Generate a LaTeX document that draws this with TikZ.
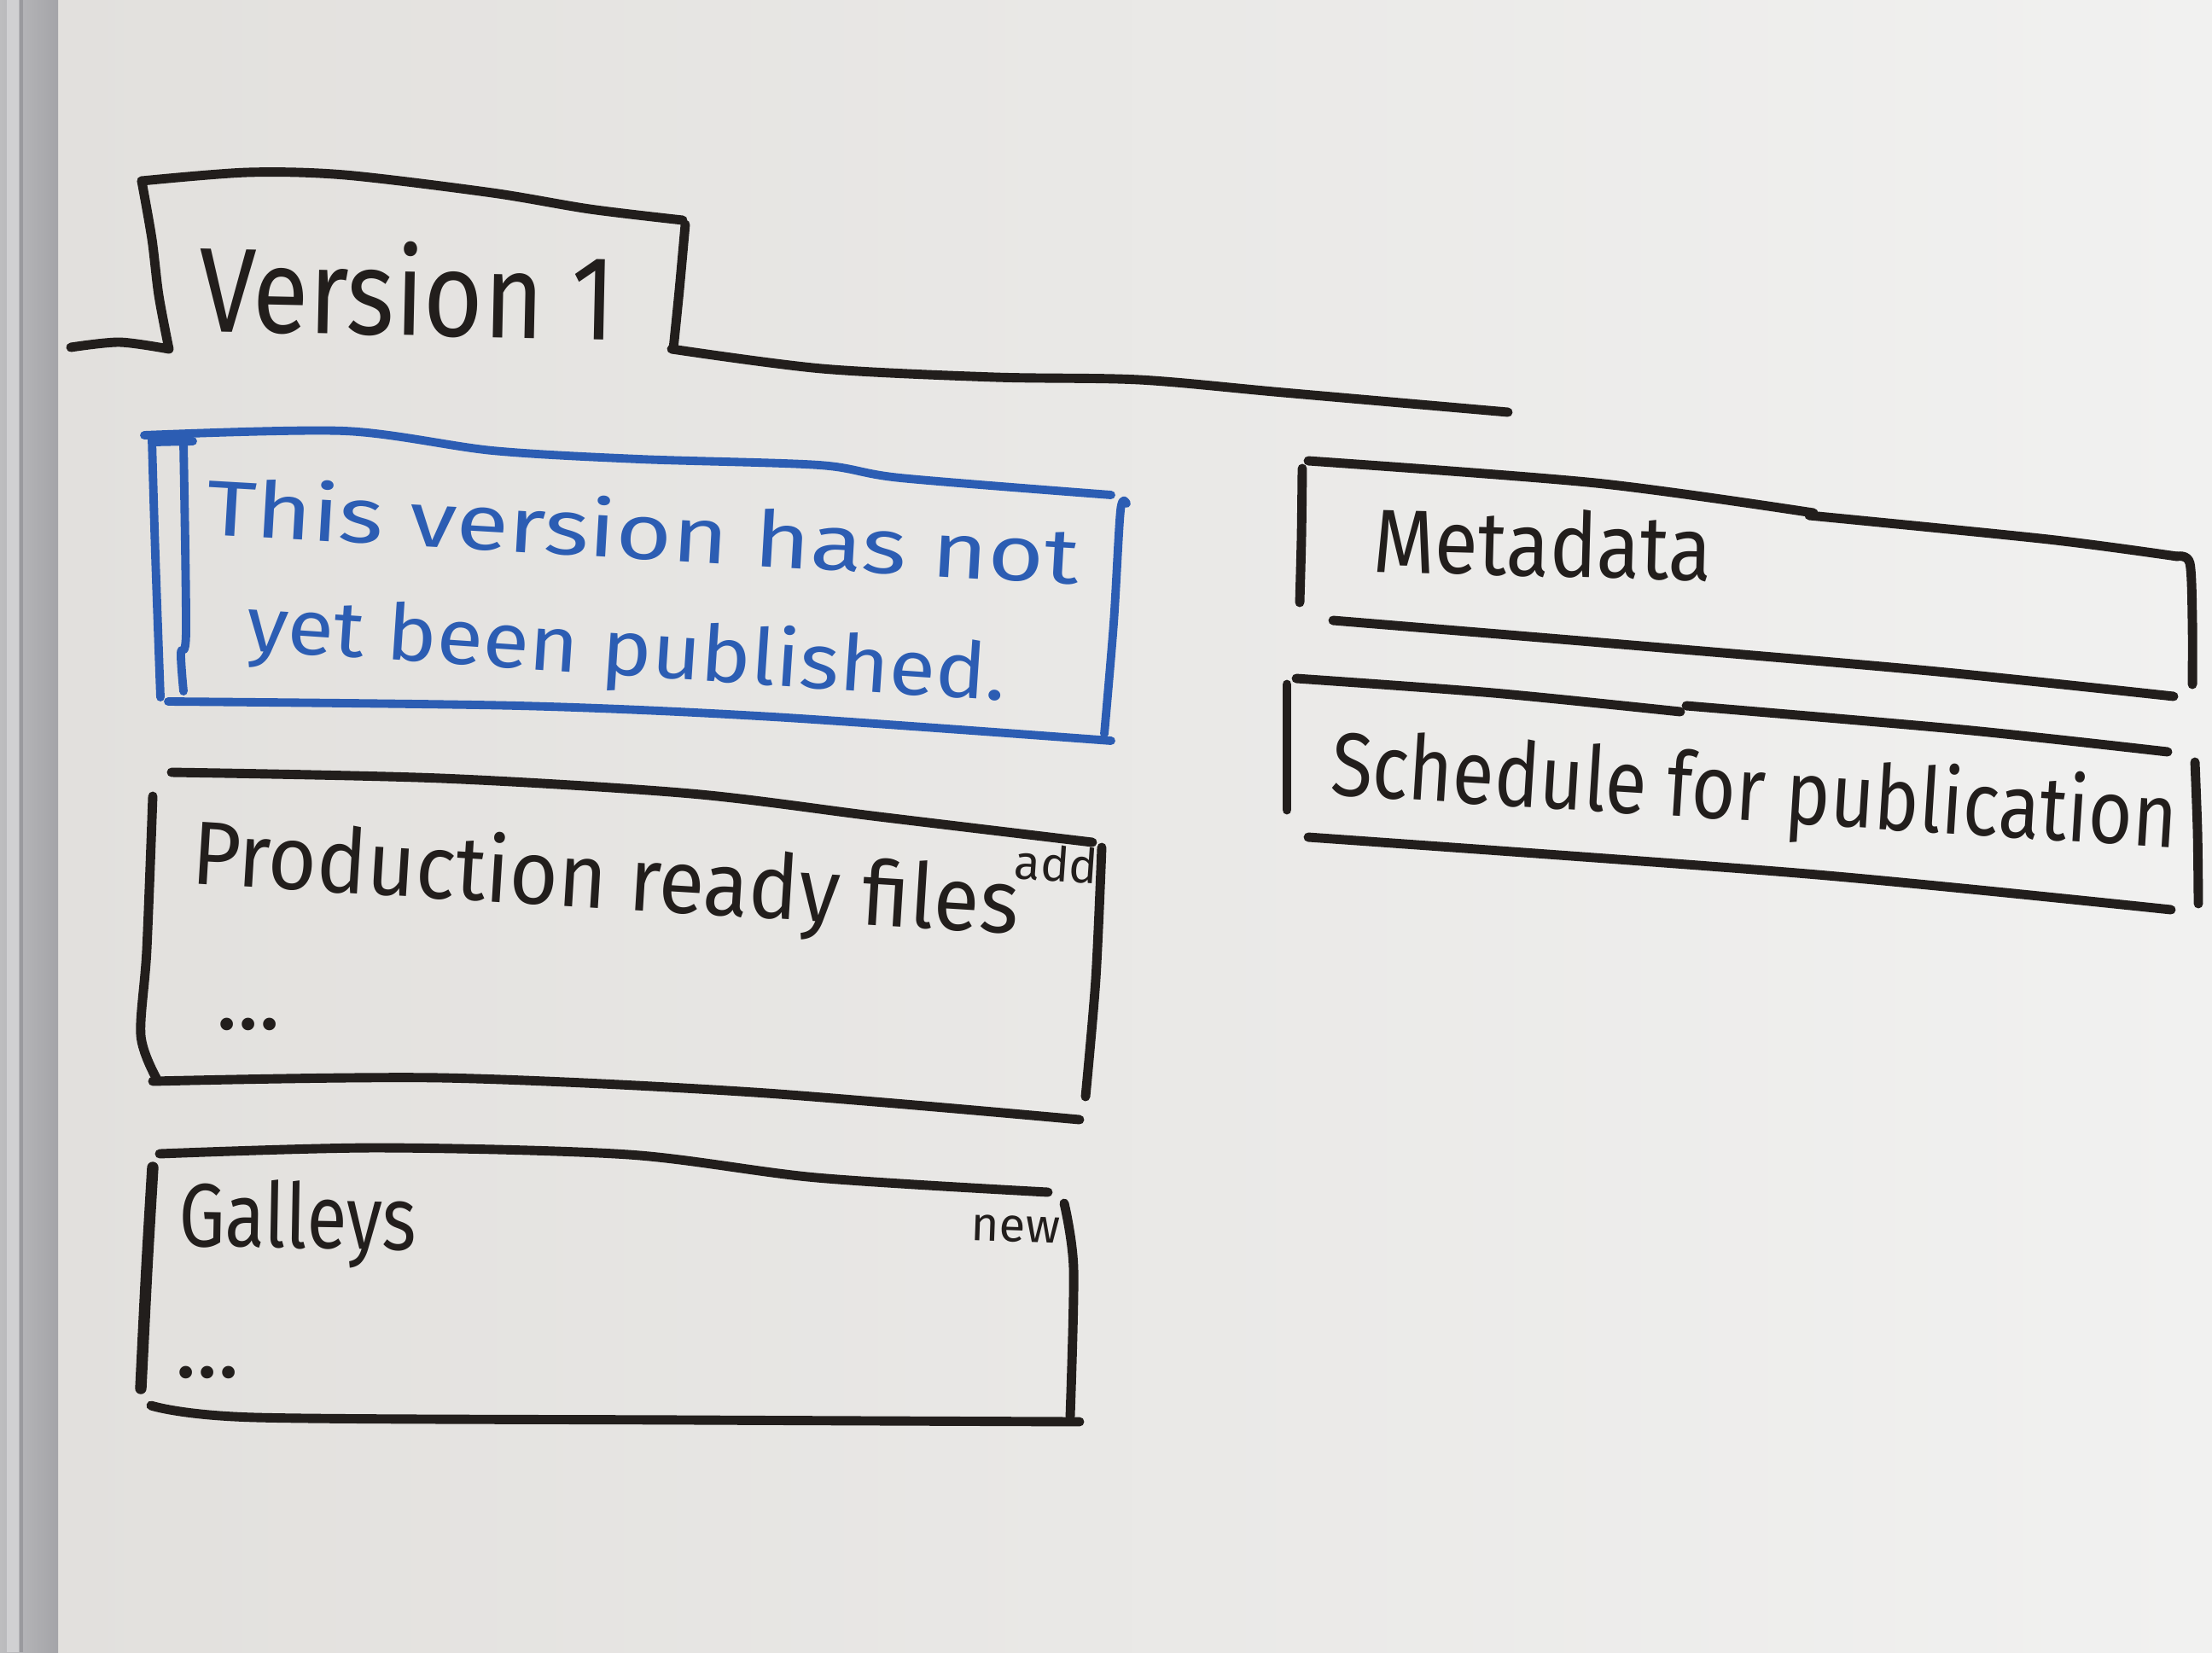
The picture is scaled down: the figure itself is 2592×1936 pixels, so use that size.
\documentclass[tikz,border=0pt]{standalone}
\usepackage{fontspec}
\usepackage{graphicx}
\setmainfont{Fira Sans}

% board and marker colours
\definecolor{boardL}{HTML}{E2E0DD}
\definecolor{boardR}{HTML}{F1F1F0}
\definecolor{railA}{HTML}{BDBDBF}
\definecolor{railB}{HTML}{A4A4A8}
\definecolor{railLight}{HTML}{D0D0D2}
\definecolor{railDark}{HTML}{9A9A9E}
\definecolor{inkblack}{HTML}{221E1C}
\definecolor{inkblue}{HTML}{2C5DB3}

% squeeze a text to a given width, keeping its height
\newcommand{\fitto}[2]{\resizebox{#1}{\height}{#2}}

\begin{document}
\begin{tikzpicture}[
  x=0.01cm, y=-0.01cm,
  marker/.style={draw=inkblack, line width=3.1pt, line cap=round, line join=round},
  bluemarker/.style={draw=inkblue, line width=2.8pt, line cap=round, line join=round},
  hand/.style={inner sep=0pt, outer sep=0pt, text=inkblack,
               font=\fontsize{30}{36}\selectfont},
  bluehand/.style={hand, text=inkblue, font=\fontsize{26}{31}\selectfont},
  tag/.style={inner sep=0pt, outer sep=0pt, text=inkblack,
              font=\fontsize{16}{19}\selectfont},
  smoothline/.style={smooth, tension=0.5}
]
\useasboundingbox (0,0) rectangle (2592,1936);

% whiteboard surface and aluminium rail
\shade[left color=boardL, right color=boardR] (60,0) rectangle (2592,1936);
\shade[left color=railA, right color=railB] (0,0) rectangle (68,1936);
\fill[railLight] (8,0) rectangle (22,1936);
\draw[railDark, line width=1.2pt] (25,0) -- (25,1936);

% ---------- tab "Version 1" ----------
\draw[marker] plot[smoothline] coordinates {(83,407) (140,401) (198,409)};
\draw[marker] plot[smoothline] coordinates {(166,212) (178,280) (186,346) (198,409)};
\draw[marker] plot[smoothline] coordinates {(166,212) (290,202) (404,205) (577,226) (691,245) (800,258)};
\draw[marker] plot[smoothline] coordinates {(803,263) (796,340) (789,409)};
\draw[marker] plot[smoothline] coordinates {(787,409) (963,432) (1166,442) (1335,445) (1504,460) (1767,483)};
\node[hand, font=\fontsize{40}{48}\selectfont, anchor=base west, rotate=-1.2]
  (version) at (232,388) {\fitto{4.88cm}{Version 1}};

% ---------- blue notice box ----------
\draw[bluemarker] plot[smoothline] coordinates {(169,510) (404,505) (577,528) (749,538) (960,545) (1055,560) (1302,580)};
\draw[bluemarker] plot[smoothline] coordinates {(178,514) (182,650) (188,817)};
\draw[bluemarker] (180,518) -- (226,517);
\draw[bluemarker] plot[smoothline] coordinates {(215,518) (218,740) (212,765) (215,810)};
\draw[bluemarker] plot[smoothline] coordinates {(197,822) (608,827) (906,840) (1302,868)};
\draw[bluemarker] plot[smoothline] coordinates {(1320,590) (1313,598) (1305,730) (1294,860)};
\node[bluehand, anchor=base west, rotate=-3.3]
  (notice1) at (240,626) {\fitto{10.24cm}{This version has not}};
\node[bluehand, anchor=base west, rotate=-3.8]
  (notice2) at (287,762) {\fitto{8.92cm}{yet been published.}};

% ---------- production ready files ----------
\draw[marker] plot[smoothline] coordinates {(201,905) (517,912) (810,930) (1030,957) (1280,987)};
\draw[marker] plot[smoothline] coordinates {(179,933) (172,1113) (165,1213) (183,1263)};
\draw[marker] plot[smoothline] coordinates {(179,1267) (517,1263) (884,1280) (1265,1312)};
\draw[marker] plot[smoothline] coordinates {(1291,993) (1284,1147) (1272,1285)};
\node[hand, anchor=base west, rotate=-3.5]
  (production) at (223,1035) {\fitto{9.70cm}{Production ready files}};
\node[tag, rotate=-4] (addtag) at (1238,1012) {add};
\node[hand] (proddots) at (291,1200) {...};

% ---------- galleys ----------
\draw[marker] plot[smoothline] coordinates {(187,1352) (443,1345) (737,1353) (957,1380) (1228,1397)};
\draw[marker, line width=3.8pt] plot[smoothline] coordinates {(179,1368) (172,1487) (165,1627)};
\draw[marker] plot[smoothline] coordinates {(177,1647) (300,1661) (810,1664) (1265,1666)};
\draw[marker] plot[smoothline] coordinates {(1247,1410) (1258,1487) (1254,1660)};
\node[hand, anchor=base west, rotate=-1]
  (galleys) at (209,1460) {\fitto{2.78cm}{Galleys}};
\node[tag, rotate=-2] (newtag) at (1190,1440) {new};
\node[hand] (galdots) at (243,1608) {...};

% ---------- metadata ----------
\draw[marker] plot[smoothline] coordinates {(1533,540) (1870,566) (2125,601)};
\draw[marker] plot[smoothline] coordinates {(2120,604) (2400,632) (2551,652)};
\draw[marker] plot[smoothline] coordinates {(2551,652) (2566,660) (2569,730) (2569,802)};
\draw[marker] plot[smoothline] coordinates {(1526,549) (1525,630) (1523,706)};
\draw[marker] plot[smoothline] coordinates {(1562,727) (1900,755) (2260,786) (2547,816)};
\node[hand, anchor=base west, rotate=-1.5]
  (metadata) at (1608,670) {\fitto{3.97cm}{Metadata}};

% ---------- schedule for publication ----------
\draw[marker] plot[smoothline] coordinates {(1519,795) (1750,812) (1969,834)};
\draw[marker] plot[smoothline] coordinates {(1976,827) (2300,855) (2540,881)};
\draw[marker] plot[smoothline] coordinates {(1508,802) (1508,875) (1508,949)};
\draw[marker] plot[smoothline] coordinates {(1533,981) (2118,1024) (2544,1066)};
\draw[marker] plot[smoothline] coordinates {(2572,893) (2575,975) (2576,1059)};
\node[hand, anchor=base west, rotate=-3.6]
  (schedule) at (1558,931) {\fitto{9.93cm}{Schedule for publication}};
\end{tikzpicture}
\end{document}
